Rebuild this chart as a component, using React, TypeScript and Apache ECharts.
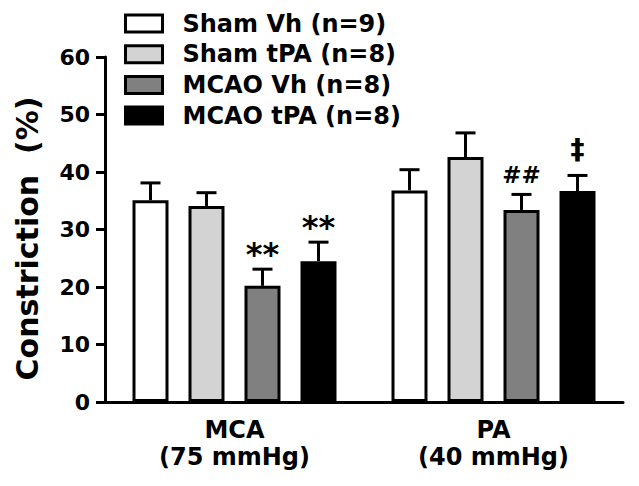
import React, { useEffect, useRef } from "react";
import * as echarts from "echarts";

const categories = ["MCA\n(75 mmHg)", "PA\n(40 mmHg)"];
const seriesNames = ["Sham Vh (n=9)", "Sham tPA (n=8)", "MCAO Vh (n=8)", "MCAO tPA (n=8)"];
const shamVh = [35.1, 36.8];
const shamTpa = [34.1, 42.6];
const mcaoVh = [20.2, 33.4];
const mcaoTpa = [24.5, 36.7];
const shamVhErr = [3.0, 3.6];
const shamTpaErr = [2.3, 4.2];
const mcaoVhErr = [2.9, 2.7];
const mcaoTpaErr = [3.3, 2.7];
const shamVhMark = ["", ""];
const shamTpaMark = ["", ""];
const mcaoVhMark = ["**", "##"];
const mcaoTpaMark = ["**", "\u2021"];
const yTicks = { min: 0, max: 60, interval: 10 };

const seriesValues = [shamVh, shamTpa, mcaoVh, mcaoTpa];
const seriesErrs = [shamVhErr, shamTpaErr, mcaoVhErr, mcaoTpaErr];
const seriesMarks = [shamVhMark, shamTpaMark, mcaoVhMark, mcaoTpaMark];
const colors = ["#ffffff", "#d3d3d3", "#808080", "#000000"];

const FONT = "'DejaVu Sans', Verdana, sans-serif";
const BAR_W = 36;
const BAR_GAP_PX = 20;
const markStyle: Record<string, { size: number; dy: number }> = {
  "**": { size: 32, dy: -15 },
  "##": { size: 23, dy: -19.5 },
  "\u2021": { size: 28, dy: -26 },
};

export default function App() {
  const ref = useRef<HTMLDivElement>(null);
  useEffect(() => {
    if (!ref.current) return;
    const chart = echarts.init(ref.current, null, { renderer: "svg" });
    const errData: any[] = [];
    seriesValues.forEach((vals, s) => {
      vals.forEach((v, c) => {
        errData.push([c, v, seriesErrs[s][c], s, seriesMarks[s][c]]);
      });
    });
    const bars = seriesNames.map((name, s) => ({
      name,
      type: "bar",
      data: seriesValues[s],
      barWidth: BAR_W,
      barGap: (BAR_GAP_PX / BAR_W) * 100 + "%",
      itemStyle: { color: colors[s], borderColor: "#000", borderWidth: 3 },
      z: 2,
    }));
    chart.setOption({
      animation: false,
      backgroundColor: "#fff",
      textStyle: { fontFamily: FONT, fontWeight: "bold", color: "#000" },
      grid: { left: 105, right: 16, top: 57, bottom: 84, containLabel: false },
      legend: {
        orient: "vertical",
        left: 124,
        top: 11.5,
        padding: 0,
        itemWidth: 37,
        itemHeight: 17,
        itemGap: 6.7,
        icon: "rect",
        data: seriesNames,
        formatter: (name: string) => `{t|${name}}`,
        itemStyle: { borderColor: "#000", borderWidth: 3 },
        textStyle: {
          fontFamily: FONT,
          fontWeight: "bold",
          fontSize: 24,
          color: "#000",
          rich: {
            t: { fontFamily: FONT, fontWeight: "bold", fontSize: 24, color: "#000", padding: [0, 0, 0, 15] },
          },
        },
      },
      xAxis: {
        type: "category",
        data: categories,
        axisLine: { lineStyle: { color: "#000", width: 3 } },
        axisTick: { alignWithLabel: true, length: 10, lineStyle: { color: "#000", width: 3 } },
        axisLabel: { fontFamily: FONT, fontWeight: "bold", fontSize: 24, color: "#000", lineHeight: 27, margin: 14 },
        splitLine: { show: false },
      },
      yAxis: {
        type: "value",
        min: yTicks.min,
        max: yTicks.max,
        interval: yTicks.interval,
        name: "Constriction  (%)",
        nameLocation: "middle",
        nameGap: 63,
        nameRotate: 90,
        nameTextStyle: { fontFamily: FONT, fontWeight: "bold", fontSize: 30, color: "#000", padding: [0, 18, 0, 0] },
        axisLine: { show: true, lineStyle: { color: "#000", width: 3 } },
        axisTick: { show: true, length: 9, lineStyle: { color: "#000", width: 3 } },
        axisLabel: { fontFamily: FONT, fontWeight: "bold", fontSize: 22, color: "#000", margin: 15 },
        splitLine: { show: false },
      },
      series: [
        ...bars,
        {
          type: "custom",
          data: errData,
          z: 3,
          silent: true,
          encode: { x: 0, y: 1 },
          renderItem: (params: any, api: any) => {
            const c = api.value(0);
            const v = api.value(1);
            const e = api.value(2);
            const s = api.value(3);
            const mark = errData[params.dataIndex][4];
            const base = api.coord([c, v]);
            const top = api.coord([c, v + e]);
            const x = base[0] + (s - 1.5) * (BAR_W + BAR_GAP_PX);
            const yBar = base[1];
            const yTop = top[1];
            const stroke = { stroke: "#000", lineWidth: 3 };
            const children: any[] = [
              { type: "line", shape: { x1: x, y1: yBar, x2: x, y2: yTop }, style: stroke },
              { type: "line", shape: { x1: x - 10, y1: yTop, x2: x + 10, y2: yTop }, style: stroke },
            ];
            if (mark) {
              const ms = markStyle[mark] || { size: 24, dy: -18 };
              children.push({
                type: "text",
                style: {
                  text: mark,
                  x,
                  y: yTop + ms.dy,
                  fill: "#000",
                  font: `bold ${ms.size}px ${FONT}`,
                  align: "center",
                  verticalAlign: "middle",
                },
              });
            }
            return { type: "group", children };
          },
        },
      ],
    });
    return () => chart.dispose();
  }, []);
  return (
    <div
      ref={ref}
      style={{ position: "fixed", left: 0, top: 0, width: 639, height: 486 }}
    />
  );
}
